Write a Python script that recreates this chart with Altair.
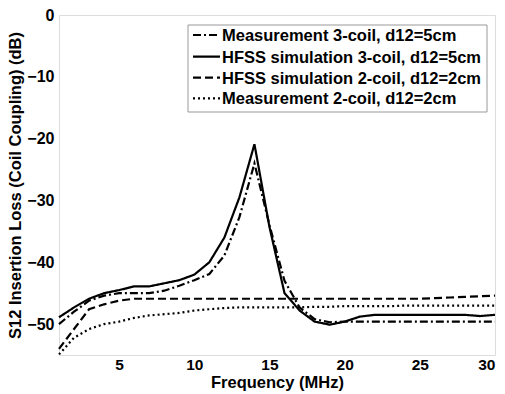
import altair as alt
import pandas as pd

freq = list(range(1, 31))

meas3 = [-50.0, -48.0, -46.2, -45.4, -45.0, -45.0, -45.0, -44.6, -43.8, -42.9,
         -41.9, -38.9, -32.7, -24.0, -34.0, -43.0, -47.3, -49.2, -49.7, -49.6,
         -49.6, -49.6, -49.6, -49.6, -49.6, -49.6, -49.6, -49.6, -49.6, -49.6]
hfss3 = [-48.9, -47.3, -45.9, -45.0, -44.5, -43.9, -43.9, -43.4, -42.9, -42.0,
         -40.0, -36.0, -29.5, -20.9, -34.3, -45.0, -47.8, -49.6, -50.1, -49.6,
         -48.8, -48.5, -48.5, -48.5, -48.5, -48.5, -48.5, -48.5, -48.7, -48.5]
hfss2 = [-54.0, -50.8, -47.6, -46.8, -46.2, -45.9, -45.9, -45.9, -45.9, -45.9,
         -45.9, -45.9, -45.9, -45.9, -45.9, -45.9, -45.9, -45.9, -45.9, -45.9,
         -45.9, -45.9, -45.9, -45.9, -45.9, -45.8, -45.7, -45.6, -45.5, -45.4]
meas2 = [-54.9, -52.2, -50.8, -50.0, -49.6, -49.0, -48.6, -48.4, -48.2, -47.8,
         -47.6, -47.4, -47.3, -47.3, -47.3, -47.3, -47.3, -47.2, -47.2, -47.1,
         -47.1, -47.1, -47.1, -47.0, -47.0, -47.0, -47.0, -47.0, -47.0, -47.0]

series_names = [
    "Measurement 3-coil, d12=5cm",
    "HFSS simulation 3-coil, d12=5cm",
    "HFSS simulation 2-coil, d12=2cm",
    "Measurement 2-coil, d12=2cm",
]
series_values = [meas3, hfss3, hfss2, meas2]

rows = []
for name, vals in zip(series_names, series_values):
    for f, v in zip(freq, vals):
        rows.append({"f": f, "v": v, "s": name})
df = pd.DataFrame(rows)

dashes = [[8, 3, 2, 3], [1, 0], [8, 4], [2, 3]]
font = "Liberation Sans"
dash_scale = alt.Scale(domain=series_names, range=dashes)

lines = alt.Chart(df).mark_line(strokeWidth=2.2, color="black").encode(
    x=alt.X("f:Q", scale=alt.Scale(domain=[1, 30], nice=False),
            axis=alt.Axis(values=[5, 10, 15, 20, 25, 30], title="Frequency (MHz)",
                          grid=False, domain=False, ticks=False,
                          labelFontSize=15.5, labelFontWeight="bold", labelPadding=2,
                          labelColor="black", labelFont=font,
                          titleFontSize=16.5, titleFontWeight="bold", titleFont=font,
                          titleColor="black", titlePadding=2)),
    y=alt.Y("v:Q", scale=alt.Scale(domain=[-55, 0], nice=False),
            axis=alt.Axis(values=[0, -10, -20, -30, -40, -50],
                          title="S12 Insertion Loss (Coil Coupling) (dB)",
                          grid=False, domain=False, ticks=False,
                          labelFontSize=16, labelFontWeight="bold", labelPadding=5,
                          labelColor="black", labelFont=font,
                          titleFontSize=16.5, titleFontWeight="bold", titleFont=font,
                          titleColor="black", titlePadding=3)),
    strokeDash=alt.StrokeDash("s:N", scale=dash_scale, legend=None),
)

# manual legend (layout positions in pixels)
box = alt.Chart(pd.DataFrame({"a": [0]})).mark_rect(
    fill="white", stroke="#999999", strokeWidth=1
).encode(x=alt.value(129), x2=alt.value(428), y=alt.value(10), y2=alt.value(97))

row_y = [20, 41.7, 62.7, 83.3]
legend_layers = [box]
for name, yy in zip(series_names, row_y):
    d = pd.DataFrame({"s": [name]})
    legend_layers.append(
        alt.Chart(d).mark_rule(strokeWidth=2.2, color="black").encode(
            x=alt.value(134), x2=alt.value(161), y=alt.value(yy),
            strokeDash=alt.StrokeDash("s:N", scale=dash_scale, legend=None),
        )
    )
    legend_layers.append(
        alt.Chart(d).mark_text(align="left", baseline="middle", fontSize=16.5,
                               fontWeight="bold", font=font, color="black").encode(
            x=alt.value(163), y=alt.value(yy + 1), text="s:N"
        )
    )

chart = alt.layer(lines, *legend_layers).properties(
    width=436,
    height=340,
    padding={"left": 59, "top": 15, "right": 10, "bottom": 39},
    autosize=alt.AutoSizeParams(type="none"),
).configure_view(
    stroke="#aaaaaa", strokeWidth=1
).configure(background="white")

chart.save("out.html", embed_options={"renderer": "svg", "actions": False})
